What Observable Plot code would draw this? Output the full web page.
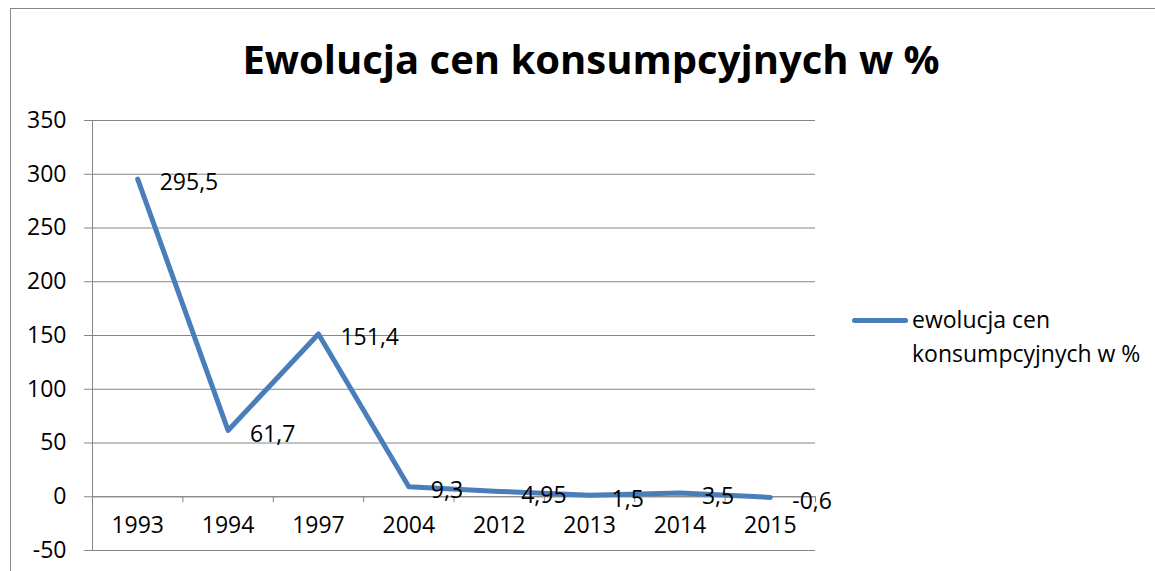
<!DOCTYPE html>
<html>
<head>
<meta charset="utf-8">
<script src="https://cdn.jsdelivr.net/npm/d3@7"></script>
<script src="https://cdn.jsdelivr.net/npm/@observablehq/plot@0.6"></script>
<style>
  html, body { margin: 0; padding: 0; background: #fff; overflow: hidden; }
  #wrap { position: relative; width: 1155px; height: 571px; font-family: "Open Sans", sans-serif; }
  #border { position: absolute; left: 10px; top: 8px; width: 1200px; height: 700px; border-left: 1px solid #868686; border-top: 1px solid #868686; }
  #title { position: absolute; left: 0; top: 31px; width: 1182px; text-align: center; font-weight: bold; font-size: 40px; color: #000; }
  #plot { position: absolute; left: 0; top: 100px; }
  #legend { position: absolute; left: 852px; top: 302px; font-size: 23px; line-height: 34px; color: #000; }
  #legend .sw { position: absolute; left: 0; top: 16px; width: 56px; height: 5px; border-radius: 3px; background: #4a7ebb; }
  #legend .tx { position: absolute; left: 60px; top: 0; white-space: nowrap; }
  svg { overflow: visible; }
</style>
</head>
<body>
<div id="wrap">
  <div id="border"></div>
  <div id="title">Ewolucja cen konsumpcyjnych w %</div>
  <div id="plot"></div>
  <div id="legend"><div class="sw"></div><div class="tx">ewolucja cen<br>konsumpcyjnych w %</div></div>
</div>
<script>
const years = ["1993", "1994", "1997", "2004", "2012", "2013", "2014", "2015"];
const values = [295.5, 61.7, 151.4, 9.3, 4.95, 1.5, 3.5, -0.6];
const valueLabels = ["295,5", "61,7", "151,4", "9,3", "4,95", "1,5", "3,5", "-0,6"];
const yTicks = [-50, 0, 50, 100, 150, 200, 250, 300, 350];

const data = years.map((y, i) => ({i, year: y, value: values[i], label: valueLabels[i]}));
const boundaries = years.slice(0, -1).map((_, i) => i + 0.5).concat([years.length - 0.5]);

const gray = "#868686";
const blue = "#4a7ebb";

const chart = Plot.plot({
  width: 860,
  height: 471,
  marginLeft: 92,
  marginRight: 45,
  marginTop: 20,
  marginBottom: 21,
  style: {fontFamily: "Open Sans, sans-serif", fontSize: "23px", color: "#000", background: "transparent"},
  x: {type: "linear", domain: [-0.5, years.length - 0.5], axis: null, label: null},
  y: {domain: [-50, 350], axis: null, label: null},
  marks: [
    Plot.gridY(yTicks, {stroke: gray, strokeOpacity: 1, strokeWidth: 1}),
    Plot.axisY(yTicks, {label: null, tickSize: 8, tickPadding: 18, stroke: gray, strokeOpacity: 1, fill: "#000", fontSize: 23, tickFormat: d => String(d)}),
    Plot.ruleX([-0.5], {y1: -50, y2: 350, stroke: gray}),
    Plot.ruleY([0], {stroke: gray}),
    Plot.ruleX(boundaries, {x: d => d, y1: 0, y2: 0, insetBottom: -6, stroke: gray}),
    Plot.text(data, {x: "i", text: "year", frameAnchor: "bottom", dy: -18, fill: "#000", fontSize: 23}),
    Plot.line(data, {x: "i", y: "value", stroke: blue, strokeWidth: 5, strokeLinecap: "round", strokeLinejoin: "round"}),
    Plot.text(data, {x: "i", y: "value", text: "label", textAnchor: "start", dx: 22, dy: 4, fill: "#000", fontSize: 23})
  ]
});
document.getElementById("plot").appendChild(chart);
</script>
</body>
</html>
